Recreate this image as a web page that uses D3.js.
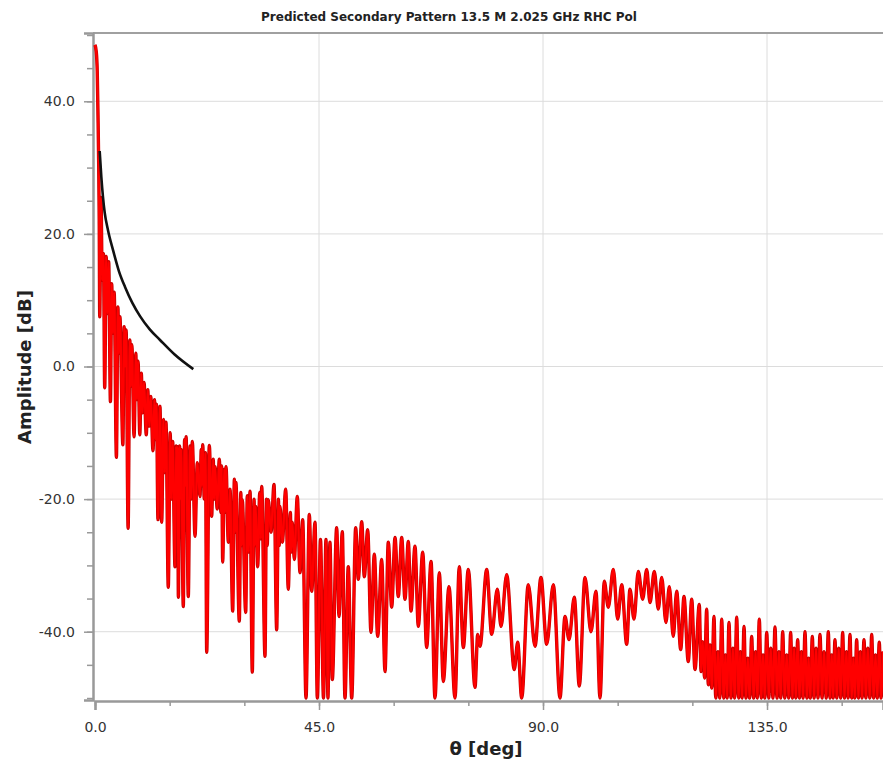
<!DOCTYPE html>
<html>
<head>
<meta charset="utf-8">
<script src="https://cdn.jsdelivr.net/npm/d3@7"></script>
<style>
  body { margin: 0; background: #fff; }
  svg { display: block; }
</style>
</head>
<body>
<div id="chart"></div>
<script>
// Predicted secondary pattern: [theta deg, amplitude dB]
const redPattern = [
  [0, 48.5], [0.25, 47.5], [0.45, 44.5], [0.6, 38], [0.75, 30], [0.85, 22], [0.95, 7.5],
  [1.2, 25.5], [1.45, 13], [1.7, 17], [1.95, -3.2], [2.25, 16.6], [2.5, 8], [2.75, 15.8], [3.1, -5.3],
  [3.35, 12.5], [3.6, 5], [3.85, 11.2], [4.3, -13.7], [4.6, 9], [4.8, 2], [5.0, 7.5], [5.6, -11.8],
  [5.85, 6], [6.05, 0], [6.25, 5.5], [6.65, -24.4], [7.0, 4], [7.2, -3], [7.4, 3.3], [7.85, -10.6],
  [8.2, 2], [8.4, -5], [8.65, 0.8], [9.0, -10.3], [9.3, -1], [9.55, -7], [9.85, -2.4], [10.3, -10.3],
  [10.6, -3.5], [10.9, -9], [11.2, -4.5], [11.65, -12.7], [11.95, -5], [12.15, -11], [12.35, -5.7], [12.65, -23.1],
  [13.05, -6.0], [13.4, -23.5], [13.75, -8], [14.0, -16], [14.26, -8.4], [14.72, -33.3], [15.1, -10], [15.35, -20],
  [15.6, -11.3], [16.07, -30.2], [16.3, -12], [16.45, -20], [16.6, -12.1], [16.75, -34.8], [17.0, -12], [17.15, -20],
  [17.3, -12.5], [17.74, -36.2], [18.0, -11], [18.15, -18], [18.3, -10.6], [18.74, -34.7], [19.1, -12], [19.3, -20],
  [19.55, -11.3], [20.09, -25.6], [20.55, -14.5], [21.09, -19.6], [21.35, -12.5], [21.5, -18], [21.64, -11.8], [21.95, -20],
  [22.2, -13], [22.44, -43.1], [22.96, -11.9], [23.44, -22.6], [23.75, -14], [23.95, -20], [24.11, -15.1], [24.55, -21.5],
  [24.97, -14.0], [25.3, -22], [25.45, -15], [25.65, -29.5], [26.0, -15.5], [26.15, -22], [26.32, -15.1], [26.78, -26.5],
  [27.12, -18.5], [27.66, -36.9], [28.0, -17], [28.15, -25], [28.3, -17.5], [28.99, -38.4], [29.3, -19], [29.45, -27],
  [29.59, -20.1], [30.27, -37.1], [30.6, -19.5], [30.85, -28], [31.14, -18.8], [31.6, -46.1], [31.95, -20], [32.1, -27],
  [32.28, -21.1], [32.68, -30.2], [33.1, -19], [33.3, -26], [33.49, -18.1], [34.15, -43.7], [34.45, -20], [34.6, -27],
  [34.81, -20.1], [35.36, -25.0], [35.96, -17.8], [36.5, -39.7], [36.85, -20], [37.0, -27], [37.16, -21.1], [37.63, -26.5],
  [38.31, -18.5], [38.83, -33.6], [39.25, -22], [39.4, -28], [39.63, -23.5], [40.04, -29.1], [40.64, -19.6], [41.18, -31.1],
  [41.72, -23.1], [42.39, -50], [43.05, -22.3], [43.53, -33.9], [44.2, -23.5], [44.66, -50],
  [45.3, -26.1], [45.9, -50], [46.4, -26.1], [46.8, -50], [47.2, -26.5], [47.67, -47.2], [48.55, -24.3], [49.02, -37.7],
  [49.68, -24.9], [50.22, -50], [50.88, -30.2], [51.57, -50], [52.37, -24.3], [52.89, -32.1], [53.58, -23.4], [54.1, -31.7],
  [54.78, -24.6], [55.44, -40.1], [56.11, -28.3], [56.79, -40.7], [57.59, -29.1], [58.26, -46.0], [58.92, -26.5], [59.6, -36.3],
  [60.27, -25.8], [60.93, -34.7], [61.61, -25.8], [62.27, -35.1], [62.94, -26.4], [63.48, -36.9], [64.28, -27.1], [64.95, -39.2],
  [65.83, -28.0], [66.63, -42.4], [67.5, -29.4], [68.3, -50], [69.17, -31.1], [69.97, -47.5], [71.11, -33.2], [72.32, -50],
  [73.18, -30.2], [73.99, -42.4], [74.99, -30.6], [76.34, -48.4], [76.88, -40.4], [77.34, -42.2], [78.69, -30.6], [79.69, -40.4],
  [80.82, -33.6], [81.56, -39.2], [82.7, -31.4], [84.23, -45.7], [84.91, -41.6], [85.72, -50], [87.04, -32.9], [88.39, -42.2],
  [89.59, -31.8], [90.74, -41.9], [92.07, -32.9], [93.41, -50], [94.42, -37.7], [95.22, -41.2], [96.29, -34.8], [97.29, -48.2],
  [98.43, -31.8], [99.64, -40.0], [100.64, -33.9], [101.45, -50], [102.31, -32.4], [103.11, -36.3], [104.12, -30.6], [105.0, -38.1],
  [105.81, -32.9], [106.81, -41.9], [107.47, -33.6], [108.28, -38.1], [109.14, -30.9], [110.02, -35.1], [110.83, -30.6], [111.49, -35.6],
  [112.36, -30.9], [113.16, -36.6], [113.84, -31.8], [114.7, -38.6], [115.37, -33.2], [116.17, -40.7], [116.85, -33.9], [117.66, -42.7],
  [118.32, -34.7], [119.18, -44.5], [119.87, -35.1], [120.53, -45.7], [121.39, -35.9], [121.75, -46], [122.08, -41.5], [122.45, -47],
  [122.88, -36.6], [123.2, -48], [123.55, -42], [123.9, -48.5], [124.35, -37.7], [124.7, -50], [125.15, -43], [125.5, -50],
  [125.9, -38.1], [126.3, -50], [126.65, -43.5], [127.0, -50], [127.36, -38.6], [127.75, -50], [128.15, -42.5], [128.5, -50],
  [128.91, -37.8], [129.3, -50], [129.65, -43], [130.0, -50], [130.38, -39.2], [130.75, -50], [131.15, -44], [131.5, -50],
  [131.92, -40.7], [132.3, -50], [132.7, -43], [133.05, -50], [133.45, -38.1], [133.85, -50], [134.2, -43.5], [134.55, -50],
  [134.94, -40.1], [135.35, -50], [135.75, -42.5], [136.2, -50], [136.6, -39.3], [137.0, -50], [137.4, -43], [137.75, -50],
  [138.15, -40], [138.55, -50], [138.95, -43.5], [139.35, -50], [139.75, -40.1], [140.1, -50], [140.45, -42.5], [140.8, -50],
  [141.16, -41.2], [141.5, -50], [141.9, -43], [142.25, -50], [142.63, -40], [143.0, -50], [143.35, -44], [143.7, -50],
  [144.1, -40.7], [144.45, -50], [144.85, -42.5], [145.25, -50], [145.64, -40.4], [146.05, -50], [146.45, -43], [146.9, -50],
  [147.31, -40], [147.65, -50], [148.0, -43.5], [148.3, -50], [148.65, -41.2], [149.0, -50], [149.4, -42.5], [149.8, -50],
  [150.2, -40.1], [150.55, -50], [150.95, -43], [151.3, -50], [151.67, -40.4], [152.0, -50], [152.35, -44], [152.65, -50],
  [153.01, -41.2], [153.35, -50], [153.75, -43], [154.1, -50], [154.48, -41.2], [154.85, -50], [155.25, -42.5], [155.65, -50],
  [156.03, -40.4], [156.4, -50], [156.8, -43.5], [157.15, -50], [157.55, -41.6], [157.9, -50], [158.3, -43]
];

// reference curve (black): [theta deg, amplitude dB]
const blackCurve = [
  [0.94, 32.5], [1.27, 28.6], [1.6, 25.6], [1.95, 23.2], [2.6, 20.6], [3.68, 17.4], [4.8, 14.4],
  [6.03, 12.0], [7.5, 9.6], [9.04, 7.6], [11, 5.6], [13.06, 4.0], [16, 1.8], [19.75, -0.4]
];

const yTicks = [-40, -20, 0, 20, 40];
const xTicks = [0, 45, 90, 135];

const width = 883, height = 768;
const plotLeft = 95, plotRight = 883, plotTop = 33, plotBottom = 700;

const svg = d3.select('#chart').append('svg')
  .attr('width', width)
  .attr('height', height)
  .style('font-family', '"DejaVu Sans", Verdana, sans-serif');

const x = d3.scaleLinear().domain([0, 158.3]).range([plotLeft, plotRight]);
const y = d3.scaleLinear().domain([-50.3, 50.3]).range([plotBottom, plotTop]);

svg.append('defs').append('clipPath').attr('id', 'plot')
  .append('rect').attr('x', 93).attr('y', plotTop).attr('width', plotRight - 93).attr('height', plotBottom - plotTop);

// grid
svg.append('g').selectAll('line').data(yTicks).enter().append('line')
  .attr('x1', 93).attr('x2', plotRight).attr('y1', d => y(d)).attr('y2', d => y(d))
  .attr('stroke', '#dcdcdc').attr('stroke-width', 1);
svg.append('g').selectAll('line').data(xTicks.slice(1)).enter().append('line')
  .attr('x1', d => x(d)).attr('x2', d => x(d)).attr('y1', plotTop).attr('y2', plotBottom)
  .attr('stroke', '#dcdcdc').attr('stroke-width', 1);

// top border
svg.append('line').attr('x1', 93).attr('x2', plotRight).attr('y1', plotTop).attr('y2', plotTop)
  .attr('stroke', '#a0a0a0').attr('stroke-width', 2);

const fmt = d => d.toFixed(1);

// y axis
svg.append('g').attr('transform', 'translate(93,0)')
  .call(d3.axisLeft(y).tickValues(yTicks).tickFormat(fmt).tickSize(9).tickPadding(9));
svg.append('g').attr('transform', 'translate(93,0)')
  .call(d3.axisLeft(y).tickValues(d3.range(-50, 51, 5)).tickFormat('').tickSize(6))
  .select('.domain').remove();

// x axis
svg.append('g').attr('transform', `translate(0,${plotBottom + 1})`)
  .call(d3.axisBottom(x).tickValues(xTicks).tickFormat(fmt).tickSize(9).tickPadding(12));
svg.append('g').attr('transform', `translate(0,${plotBottom + 1})`)
  .call(d3.axisBottom(x).tickValues(d3.range(0, 158, 15)).tickFormat('').tickSize(5))
  .select('.domain').remove();

svg.selectAll('.domain').attr('stroke', '#999').attr('stroke-width', 2.5);
svg.selectAll('.tick line').attr('stroke', '#999').attr('stroke-width', 1.5);
svg.selectAll('.tick text').attr('fill', '#333').style('font-size', '14px').style('font-family', '"DejaVu Sans", Verdana, sans-serif');

// lines
const line = d3.line().x(d => x(d[0])).y(d => y(d[1])).curve(d3.curveMonotoneX);

const plot = svg.append('g').attr('clip-path', 'url(#plot)');
// darker edge under the red trace
plot.append('path')
  .datum(redPattern)
  .attr('d', line)
  .attr('fill', 'none')
  .attr('stroke', '#c80000')
  .attr('stroke-width', 3.4)
  .attr('stroke-linejoin', 'round');
plot.append('path')
  .datum(redPattern)
  .attr('d', line)
  .attr('fill', 'none')
  .attr('stroke', '#ff0000')
  .attr('stroke-width', 2.2)
  .attr('stroke-linejoin', 'round');

plot.append('path')
  .datum(blackCurve)
  .attr('d', line)
  .attr('fill', 'none')
  .attr('stroke', '#111')
  .attr('stroke-width', 2.6);

// titles
svg.append('text')
  .attr('x', 449).attr('y', 21)
  .attr('text-anchor', 'middle')
  .style('font-size', '12px').style('font-weight', 'bold')
  .attr('fill', '#222')
  .text('Predicted Secondary Pattern 13.5 M 2.025 GHz RHC Pol');

svg.append('text')
  .attr('transform', 'translate(31,367) rotate(-90)')
  .attr('text-anchor', 'middle')
  .style('font-size', '18px').style('font-weight', 'bold')
  .attr('fill', '#222')
  .text('Amplitude [dB]');

svg.append('text')
  .attr('x', 486).attr('y', 755)
  .attr('text-anchor', 'middle')
  .style('font-size', '18px').style('font-weight', 'bold')
  .attr('fill', '#222')
  .text('θ [deg]');
</script>
</body>
</html>
